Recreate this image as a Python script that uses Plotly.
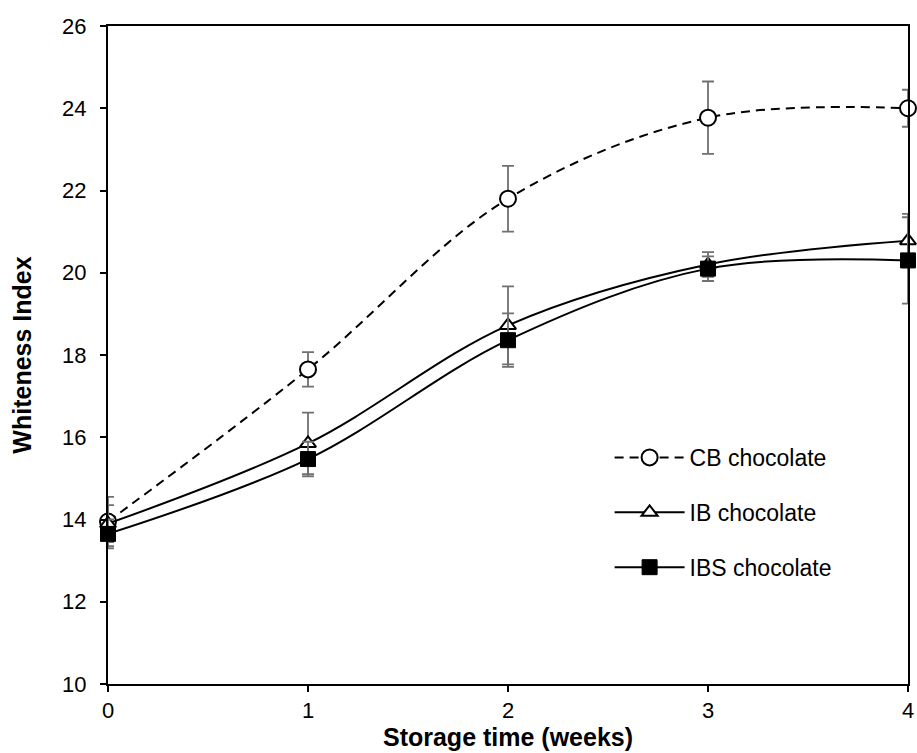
import plotly.graph_objects as go

weeks = [0, 1, 2, 3, 4]
cb_values = [13.95, 17.65, 21.8, 23.77, 24.0]
cb_err = [0.6, 0.42, 0.8, 0.88, 0.45]
ib_values = [13.9, 15.85, 18.72, 20.2, 20.78]
ib_err = [0.45, 0.75, 0.95, 0.3, 0.65]
ibs_values = [13.65, 15.47, 18.36, 20.1, 20.3]
ibs_err = [0.35, 0.42, 0.65, 0.3, 1.05]

fig = go.Figure()
err_style = dict(type="data", color="#707070", thickness=1.8, width=6)

fig.add_trace(go.Scatter(
    x=weeks, y=cb_values, name="CB chocolate", mode="lines+markers",
    line=dict(color="black", width=2, dash="9px,6px", shape="spline", smoothing=1),
    marker=dict(symbol="circle", size=16, color="white", line=dict(color="black", width=2)),
    error_y=dict(array=cb_err, **err_style), cliponaxis=False, legendgroup="a"))
fig.add_trace(go.Scatter(
    x=weeks, y=ib_values, name="IB chocolate", mode="lines+markers",
    line=dict(color="black", width=2, shape="spline", smoothing=1),
    marker=dict(symbol="triangle-up", size=14, color="white", line=dict(color="black", width=2)),
    error_y=dict(array=ib_err, **err_style), cliponaxis=False, legendgroup="b"))
fig.add_trace(go.Scatter(
    x=weeks, y=ibs_values, name="IBS chocolate", mode="lines+markers",
    line=dict(color="black", width=2, shape="spline", smoothing=1),
    marker=dict(symbol="square", size=15, color="black", line=dict(color="black", width=1)),
    error_y=dict(array=ibs_err, **err_style), cliponaxis=False, legendgroup="c"))

tick_font = dict(family="Liberation Sans, Arial", size=22, color="black")
title_font = dict(family="Liberation Sans, Arial", size=25, color="black")
fig.update_layout(
    width=917, height=753,
    margin=dict(l=108, r=9, t=26, b=69, autoexpand=False),
    paper_bgcolor="white", plot_bgcolor="white",
    font=tick_font,
    showlegend=True,
    legend=dict(x=0.627, y=0.377, xanchor="left", yanchor="top",
                bgcolor="rgba(0,0,0,0)", font=dict(family="Liberation Sans, Arial", size=23, color="black"),
                tracegroupgap=22, itemwidth=70),
    xaxis=dict(range=[0, 4], tickvals=weeks, showgrid=False, zeroline=False,
               showline=True, linecolor="black", linewidth=2, mirror=True,
               ticks="outside", ticklen=6, tickwidth=2, tickcolor="black",
               tickfont=tick_font, automargin=False, ticklabelstandoff=0,
               title=dict(text="<b>Storage time (weeks)</b>", font=title_font, standoff=5)),
    yaxis=dict(range=[10, 26], tickvals=[10, 12, 14, 16, 18, 20, 22, 24, 26],
               showgrid=False, zeroline=False,
               showline=True, linecolor="black", linewidth=2, mirror=True,
               ticks="outside", ticklen=6, tickwidth=2, tickcolor="black",
               tickfont=tick_font, automargin=False, ticklabelstandoff=9,
               title=dict(text="<b>Whiteness Index</b>", font=title_font, standoff=23)),
)

fig.write_html("out.html", config={"displayModeBar": False},
               post_script="document.body.style.margin='0';")
